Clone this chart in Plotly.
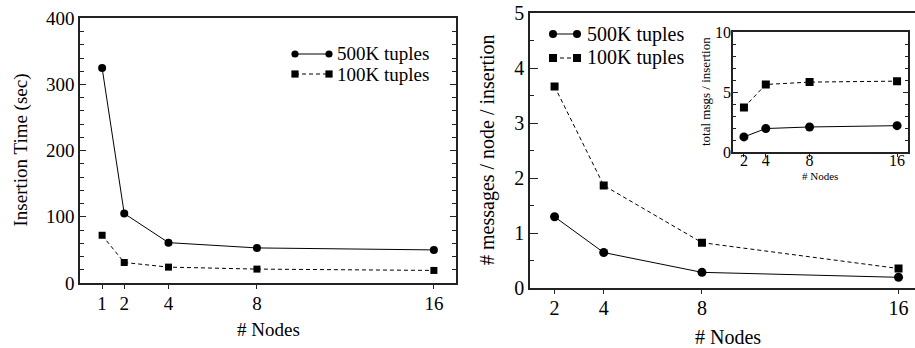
import plotly.graph_objects as go

# ---------------- data ----------------
series_names = ["500K tuples", "100K tuples"]

nodes_left = [1, 2, 4, 8, 16]
time_500k = [325, 105, 61, 53, 50]
time_100k = [72, 31, 24, 21, 19]

nodes_right = [2, 4, 8, 16]
msgs_node_500k = [1.30, 0.65, 0.29, 0.20]
msgs_node_100k = [3.67, 1.87, 0.83, 0.36]

total_msgs_500k = [1.26, 1.96, 2.09, 2.20]
total_msgs_100k = [3.72, 5.64, 5.84, 5.92]

left_tickvals = [1, 2, 4, 8, 16]
right_tickvals = [2, 4, 8, 16]

# ---------------- helpers ----------------
W, H = 915, 348
FONT = "Liberation Serif, Times New Roman, serif"
AX = "#222222"


def px(x):
    return x / W


def py(y):
    return 1 - y / H


fig = go.Figure()


def add_pair(xs, ya, yb, xa, ya_name, msize):
    fig.add_trace(go.Scatter(
        x=xs, y=ya, mode="lines+markers", name=series_names[0],
        line=dict(color="black", width=1),
        marker=dict(symbol="circle", size=msize, color="black"),
        xaxis=xa, yaxis=ya_name, showlegend=False))
    fig.add_trace(go.Scatter(
        x=xs, y=yb, mode="lines+markers", name=series_names[1],
        line=dict(color="black", width=1, dash="4px,3px"),
        marker=dict(symbol="square", size=msize - 1, color="black"),
        xaxis=xa, yaxis=ya_name, showlegend=False))


add_pair(nodes_left, time_500k, time_100k, "x", "y", 8)
add_pair(nodes_right, msgs_node_500k, msgs_node_100k, "x2", "y2", 9)
add_pair(nodes_right, total_msgs_500k, total_msgs_100k, "x3", "y3", 9)

common = dict(showgrid=False, zeroline=False, showline=True, linecolor=AX,
              linewidth=1.5, tickcolor=AX, tickwidth=1, automargin=False)

fig.update_layout(
    template="none",
    width=W, height=H,
    margin=dict(l=0, r=0, t=0, b=0, pad=0),
    paper_bgcolor="white", plot_bgcolor="white",
    font=dict(family=FONT, color="black"),
    showlegend=False,
    xaxis=dict(domain=[px(80), px(456)], range=[0, 17], anchor="y",
               tickvals=left_tickvals, ticks="outside", ticklen=4, mirror=True,
               ticklabelstandoff=-2,
               tickfont=dict(size=19, family=FONT), **common),
    yaxis=dict(domain=[py(283), py(18.3)], range=[0, 400], anchor="x",
               dtick=100, ticks="inside", ticklen=6, mirror="allticks",
               minor=dict(dtick=20, ticks="inside", ticklen=4, tickcolor=AX),
               tickfont=dict(size=19, family=FONT), **common),
    xaxis2=dict(domain=[px(530), 1], range=[1, 16.67], anchor="y2",
                tickvals=right_tickvals, ticks="outside", ticklen=4, mirror=True,
                ticklabelstandoff=-3,
                tickfont=dict(size=20, family=FONT), **common),
    yaxis2=dict(domain=[py(288.3), py(13.3)], range=[0, 5], anchor="x2",
                dtick=1, ticks="inside", ticklen=8,
                minor=dict(dtick=0.5, ticks="inside", ticklen=4, tickcolor=AX),
                tickfont=dict(size=20, family=FONT), **common),
    xaxis3=dict(domain=[px(733), px(908)], range=[1, 17], anchor="y3",
                tickvals=right_tickvals, ticks="outside", ticklen=3, mirror=True,
                ticklabelstandoff=-10,
                tickfont=dict(size=16, family=FONT), **common),
    yaxis3=dict(domain=[py(152), py(32.3)], range=[0, 10], anchor="x3",
                dtick=5, ticks="inside", ticklen=5, mirror="allticks",
                ticklabelstandoff=-3,
                minor=dict(dtick=1, ticks="inside", ticklen=3, tickcolor=AX),
                tickfont=dict(size=16, family=FONT), **common),
)

# ---------------- legends (drawn manually: marker-line-marker glyphs) ----------------
shapes = []
annotations = []


def legend(x0, x1, rows, r, tx, size):
    for i, (yy, dash, sym) in enumerate(rows):
        shapes.append(dict(type="line", xref="paper", yref="paper",
                           x0=px(x0), x1=px(x1), y0=py(yy), y1=py(yy),
                           line=dict(color="black", width=1, dash=dash)))
        for cx in (x0, x1):
            shapes.append(dict(type="circle" if sym == "circle" else "rect",
                               xref="paper", yref="paper",
                               x0=px(cx - r), x1=px(cx + r),
                               y0=py(yy + r), y1=py(yy - r),
                               fillcolor="black", line=dict(width=0)))
        annotations.append(dict(x=px(tx), y=py(yy), xref="paper", yref="paper",
                                text=series_names[i], showarrow=False,
                                xanchor="left", yanchor="middle",
                                font=dict(size=size, family=FONT, color="black")))


legend(295, 329, [(54, "solid", "circle"), (74, "4px,3px", "square")], 3.6, 335, 19)
legend(553, 577, [(34, "solid", "circle"), (58, "4px,3px", "square")], 4, 585, 20)


def title(text, x, y, size, angle=0):
    annotations.append(dict(x=px(x), y=py(y), xref="paper", yref="paper",
                            text=text, showarrow=False, textangle=angle,
                            xanchor="center", yanchor="middle",
                            font=dict(size=size, family=FONT, color="black")))


title("Insertion Time (sec)", 20, 150.5, 19, -90)
title("# Nodes", 268, 329, 19)
title("# messages / node / insertion", 487, 150, 20, -90)
title("# Nodes", 728, 337, 20)
title("total msgs / insertion", 705, 92, 13, -90)
title("# Nodes", 820, 176, 11)

fig.update_layout(shapes=shapes, annotations=annotations)

fig.write_html("out.html")
